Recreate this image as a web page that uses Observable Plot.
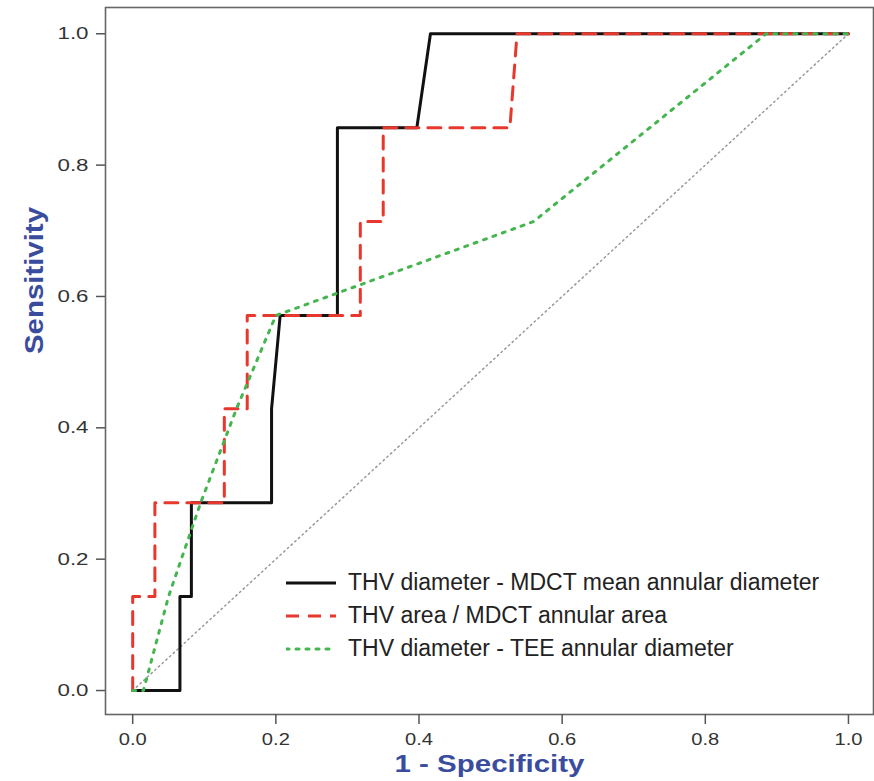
<!DOCTYPE html>
<html>
<head>
<meta charset="utf-8">
<script src="https://cdn.jsdelivr.net/npm/d3@7"></script>
<script src="https://cdn.jsdelivr.net/npm/@observablehq/plot@0.6"></script>
<style>
  html, body { margin: 0; padding: 0; background: #fff; }
  #wrap { position: relative; width: 874px; height: 781px; font-family: "Liberation Sans", Arial, sans-serif; }
  #legend { position: absolute; left: 286px; top: 566px; }
  .row { display: flex; align-items: center; height: 33px; }
  .row svg { width: 50px; height: 10px; margin-right: 12px; }
  .row span { font-size: 23px; color: #222; white-space: nowrap; }
</style>
</head>
<body>
<div id="wrap"><div id="legend"></div></div>
<script>
// ---- data ----
const xTicks = [0, 0.2, 0.4, 0.6, 0.8, 1.0];
const yTicks = [0, 0.2, 0.4, 0.6, 0.8, 1.0];

const seriesNames = [
  "THV diameter - MDCT mean annular diameter",
  "THV area / MDCT annular area",
  "THV diameter - TEE annular diameter"
];

const mdctDiamFpr = [0, 0.066, 0.066, 0.082, 0.082, 0.194, 0.194, 0.206, 0.286, 0.286, 0.397, 0.416, 1.0];
const mdctDiamTpr = [0, 0, 0.143, 0.143, 0.286, 0.286, 0.429, 0.571, 0.571, 0.857, 0.857, 1.0, 1.0];

const mdctAreaFpr = [0, 0, 0.031, 0.031, 0.128, 0.128, 0.160, 0.160, 0.318, 0.318, 0.350, 0.350, 0.527, 0.537, 1.0];
const mdctAreaTpr = [0, 0.143, 0.143, 0.286, 0.286, 0.429, 0.429, 0.571, 0.571, 0.714, 0.714, 0.857, 0.857, 1.0, 1.0];

const teeFpr = [0, 0.015, 0.05, 0.095, 0.145, 0.2, 0.56, 0.885, 1.0];
const teeTpr = [0, 0, 0.143, 0.286, 0.429, 0.571, 0.714, 1.0, 1.0];

const refFpr = [0, 1];
const refTpr = [0, 1];

// ---- build tables ----
const toPts = (xs, ys) => xs.map((x, i) => ({x, y: ys[i]}));
const black = toPts(mdctDiamFpr, mdctDiamTpr);
const red = toPts(mdctAreaFpr, mdctAreaTpr);
const green = toPts(teeFpr, teeTpr);
const diag = toPts(refFpr, refTpr);

const styles = [
  {stroke: "#111", strokeWidth: 3, dash: null},
  {stroke: "#e8382d", strokeWidth: 3, dash: "13,9"},
  {stroke: "#45b54f", strokeWidth: 3, dash: "3,7"}
];

const fmt = d3.format(".1f");
const titleColor = "#3a4c9e";

const chart = Plot.plot({
  width: 874,
  height: 781,
  marginLeft: 105,
  marginRight: 1,
  marginTop: 7,
  marginBottom: 67,
  x: {domain: [-0.038, 1.035]},
  y: {domain: [-0.0365, 1.04]},
  style: {fontFamily: "Liberation Sans, Arial, sans-serif", background: "white", overflow: "visible"},
  marks: [
    Plot.line(diag, {x: "x", y: "y", stroke: "#999", strokeWidth: 1.5, strokeDasharray: "1.5,3.5"}),
    Plot.line(black, {x: "x", y: "y", stroke: styles[0].stroke, strokeWidth: styles[0].strokeWidth}),
    Plot.line(red, {x: "x", y: "y", stroke: styles[1].stroke, strokeWidth: styles[1].strokeWidth, strokeDasharray: styles[1].dash}),
    Plot.line(green, {x: "x", y: "y", stroke: styles[2].stroke, strokeWidth: styles[2].strokeWidth, strokeDasharray: styles[2].dash, strokeLinecap: "round"}),
    Plot.frame({stroke: "#666", strokeWidth: 1.6}),
    Plot.axisX({ticks: xTicks, tickFormat: fmt, tickSize: 10, tickPadding: 8, fontSize: 17, label: null, stroke: "#555", fill: "#333", strokeWidth: 1.5}),
    Plot.axisY({ticks: yTicks, tickFormat: fmt, tickSize: 9, tickPadding: 8, fontSize: 17, label: null, stroke: "#555", fill: "#333", strokeWidth: 1.5}),
    Plot.text(["1 - Specificity"], {frameAnchor: "bottom", dy: 57, text: d => d, fontSize: 24, fontWeight: "bold", fill: titleColor}),
    Plot.text(["Sensitivity"], {frameAnchor: "left", dx: -71, dy: -7, rotate: -90, text: d => d, fontSize: 25, fontWeight: "bold", fill: titleColor})
  ]
});

// stretch text widths to match the reference
chart.querySelectorAll('[aria-label="x-axis tick label"] text').forEach(t => {
  t.setAttribute("textLength", 28); t.setAttribute("lengthAdjust", "spacingAndGlyphs");
});
chart.querySelectorAll('[aria-label="y-axis tick label"] text').forEach(t => {
  t.setAttribute("textLength", 31); t.setAttribute("lengthAdjust", "spacingAndGlyphs");
});
const texts = chart.querySelectorAll('g[aria-label="text"] text');
if (texts[0]) { texts[0].setAttribute("textLength", 190); texts[0].setAttribute("lengthAdjust", "spacingAndGlyphs"); }
if (texts[1]) { texts[1].setAttribute("textLength", 147); texts[1].setAttribute("lengthAdjust", "spacingAndGlyphs"); }

const wrap = document.getElementById("wrap");
wrap.insertBefore(chart, wrap.firstChild);

// legend
const legend = document.getElementById("legend");
seriesNames.forEach((name, i) => {
  const row = document.createElement("div");
  row.className = "row";
  const s = styles[i];
  row.innerHTML = `<svg viewBox="0 0 50 10"><line x1="0" y1="5" x2="50" y2="5" stroke="${s.stroke}" stroke-width="${s.strokeWidth}" ${s.dash ? `stroke-dasharray="${s.dash}"` : ""} ${i === 2 ? 'stroke-linecap="round"' : ""}/></svg><span>${name}</span>`;
  legend.appendChild(row);
});
</script>
</body>
</html>
